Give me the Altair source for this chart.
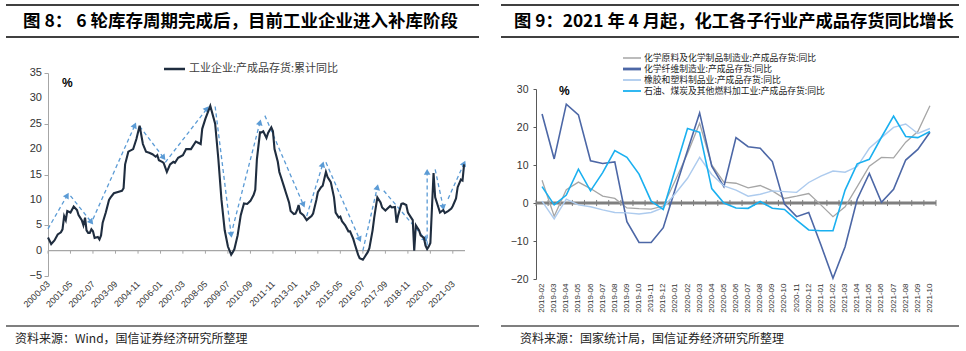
import math
import altair as alt
import pandas as pd

FONT_CJK = "Noto Sans CJK SC"
FONT_NUM = "Liberation Sans"

# ---------------- left panel data (工业企业:产成品存货:累计同比) ----------------
left_dates = [
    "2000-03", "2000-05", "2000-07", "2000-09", "2000-11", "2000-12",
    "2001-01", "2001-02", "2001-03", "2001-05", "2001-07", "2001-09", "2001-10", "2001-12",
    "2002-01", "2002-02", "2002-03", "2002-04", "2002-05", "2002-06", "2002-07", "2002-08", "2002-10", "2002-11", "2002-12",
    "2003-01", "2003-03", "2003-05", "2003-06", "2003-08", "2003-11",
    "2004-01", "2004-02", "2004-03", "2004-05", "2004-08", "2004-10", "2004-12",
    "2005-02", "2005-04", "2005-06", "2005-08", "2005-10", "2005-11", "2005-12",
    "2006-02", "2006-03", "2006-05", "2006-07", "2006-09", "2006-10", "2006-12",
    "2007-03", "2007-05", "2007-08", "2007-11",
    "2008-02", "2008-03", "2008-05", "2008-08", "2008-11",
    "2009-01", "2009-03", "2009-05", "2009-07", "2009-09", "2009-10", "2009-11",
    "2010-01", "2010-03", "2010-05", "2010-07", "2010-09", "2010-11", "2010-12",
    "2011-01", "2011-03", "2011-04", "2011-05", "2011-07", "2011-08", "2011-10", "2011-11", "2011-12",
    "2012-02", "2012-03", "2012-04", "2012-06", "2012-07", "2012-09", "2012-10", "2012-12",
    "2013-01", "2013-02", "2013-03", "2013-04", "2013-06", "2013-08", "2013-09", "2013-11", "2013-12",
    "2014-02", "2014-03", "2014-05", "2014-06", "2014-08", "2014-09", "2014-11",
    "2015-01", "2015-02", "2015-04", "2015-05", "2015-06", "2015-08", "2015-10", "2015-11",
    "2016-01", "2016-02", "2016-04", "2016-05", "2016-07", "2016-08", "2016-10", "2016-11",
    "2017-01", "2017-02", "2017-04", "2017-06", "2017-07", "2017-09", "2017-10", "2017-12",
    "2018-01", "2018-03", "2018-04", "2018-05", "2018-07", "2018-08", "2018-10", "2018-11",
    "2019-01", "2019-02", "2019-03", "2019-04", "2019-06", "2019-07", "2019-09", "2019-10", "2019-11", "2019-12",
    "2020-01", "2020-03", "2020-04", "2020-06", "2020-07", "2020-09", "2020-10", "2020-12",
    "2021-02", "2021-03", "2021-05", "2021-06", "2021-08", "2021-09", "2021-10",
]
left_values = [
    2.6, 1.3, 2.0, 3.2, 3.6, 4.2,
    6.8, 6.0, 7.8, 7.5, 8.7, 8.0, 7.0, 6.0,
    5.0, 6.5, 4.0, 3.5, 3.5, 4.2, 3.8, 2.5, 2.7, 2.2, 3.0,
    5.5, 7.5, 10.0, 10.5, 11.3, 11.6,
    11.8, 12.3, 17.0, 19.5, 20.0, 22.0, 24.6,
    21.0, 19.5, 19.3, 19.0, 18.5, 18.8, 17.8,
    17.5, 17.3, 15.5, 17.0, 17.5, 17.3, 18.3,
    18.8, 20.0, 20.0, 21.5,
    21.0, 24.0, 26.0, 28.5, 25.0,
    18.0, 10.0, 4.0, 0.8, -0.8, -0.3, 0.3,
    3.0, 7.0, 9.3, 9.2, 9.8, 11.0, 12.0,
    18.0, 23.3, 23.3, 23.5, 22.2, 23.2, 24.3, 23.5, 20.0,
    17.5, 15.5, 14.5, 12.5, 11.5, 9.5, 7.8, 7.2,
    7.3, 8.0, 9.0, 7.5, 7.0, 6.0, 6.3, 6.8, 7.3,
    10.0, 11.5, 12.5, 12.8, 15.5, 14.5, 13.5,
    10.5, 7.5, 6.5, 6.7, 5.8, 5.0, 3.8, 3.8,
    2.3, 1.2, -0.8, -1.5, -1.8, -1.3, -0.3, 0.5,
    4.0, 6.5, 10.5, 9.5, 8.5, 7.9, 8.2, 8.8,
    8.5, 8.6, 5.5, 7.0, 9.2, 9.3, 9.0, 7.5,
    6.5, 6.0, 0.0, 5.0, 4.0, 3.0, 2.5, 1.0, 0.3, 0.8,
    1.5, 15.3, 10.5, 8.5, 7.5, 8.0, 7.4, 7.8,
    8.3, 8.8, 10.3, 12.5, 14.0, 13.8, 17.0,
]

# dashed trend arrows
arrow_x1 = ["2000-03", "2001-05", "2002-07", "2004-12", "2006-04", "2008-11", "2009-10", "2011-06",
            "2013-08", "2014-08", "2016-07", "2017-08", "2019-11", "2020-04", "2020-12"]
arrow_y1 = [4.3, 10.8, 6.2, 24.5, 17.4, 28.4, 4.5, 26.6, 6.8, 17.4, 0.0, 11.8, 1.0, 16.0, 10.2]
arrow_x2 = ["2001-03", "2002-06", "2004-09", "2006-03", "2008-06", "2009-09", "2011-03", "2013-06",
            "2014-06", "2016-05", "2017-04", "2019-10", "2019-11", "2020-09", "2021-10"]
arrow_y2 = [10.9, 5.6, 24.7, 18.3, 28.0, 3.1, 25.3, 9.0, 17.0, 2.2, 12.5, 2.2, 15.5, 8.5, 17.2]

left_ticks = ["2000-03", "2001-05", "2002-07", "2003-09", "2004-11", "2006-01", "2007-03", "2008-05",
              "2009-07", "2010-09", "2011-11", "2013-01", "2014-03", "2015-05", "2016-07", "2017-09",
              "2018-11", "2020-01", "2021-03"]
left_yticks = [-5, 0, 5, 10, 15, 20, 25, 30, 35]

# ---------------- right panel data ----------------
months = ["2019-02", "2019-03", "2019-04", "2019-05", "2019-06", "2019-07", "2019-08", "2019-09",
          "2019-10", "2019-11", "2019-12", "2020-01", "2020-02", "2020-03", "2020-04", "2020-05",
          "2020-06", "2020-07", "2020-08", "2020-09", "2020-10", "2020-11", "2020-12", "2021-01",
          "2021-02", "2021-03", "2021-04", "2021-05", "2021-06", "2021-07", "2021-08", "2021-09",
          "2021-10"]
s_chem = [6.0, -3.5, 3.5, 5.5, 3.8, 1.8, 1.2, -1.3, -1.5, -1.6, -0.8, 6.0, 13.0, 21.0, 10.0, 5.5,
          5.2, 4.0, 4.6, 3.2, 1.2, 1.8, 2.5, -0.5, -3.6, -1.0, 4.3, 9.7, 12.0, 11.9, 16.0, 18.8, 25.6]
s_fiber = [23.4, 11.6, 26.0, 23.2, 11.1, 10.4, 10.8, -4.9, -10.4, -10.4, -6.5, 3.8, 13.8, 23.7, 9.7, 4.3,
           17.2, 14.8, 14.4, 10.9, -0.3, -3.6, -2.5, -11.0, -19.8, -11.5, 1.0, 7.8, 0.2, 3.6, 11.3, 14.1, 18.6]
s_rubber = [0.5, -4.2, 1.0, -0.5, -1.0, -1.8, -2.5, -2.6, -2.9, -2.5, -1.2, 2.5, 6.5, 12.0, 7.5, 4.5,
            3.4, 1.8, 2.3, 3.2, 3.0, 2.8, 5.4, 7.1, 8.4, 8.1, 9.6, 14.4, 17.2, 19.9, 20.8, 18.3, 19.6]
s_oil = [4.3, -0.5, 2.1, 8.9, 3.2, 8.0, 13.8, 12.0, 7.6, 0.5, -1.7, 9.0, 19.6, 18.6, 3.8, 0.0,
         -1.3, -1.4, 0.4, -1.4, -1.7, -4.5, -7.1, -7.3, -7.3, 3.4, 10.3, 11.5, 17.3, 22.9, 17.5, 17.2, 18.8]
right_names = ["化学原料及化学制品制造业:产成品存货:同比", "化学纤维制造业:产成品存货:同比",
               "橡胶和塑料制品业:产成品存货:同比", "石油、煤炭及其他燃料加工业:产成品存货:同比"]
right_colors = ["#A6A6A6", "#4C67A6", "#ADCBEE", "#1AB0F0"]
right_widths = [1.3, 1.6, 1.4, 1.6]
right_yticks = [-20, -15, -10, -5, 0, 5, 10, 15, 20, 25, 30]

# ---------------- geometry ----------------
W1, H1 = 417, 203          # left plot area (page origin 47, 73)
W2, H2 = 400, 206          # right view (page origin 535, 73); plot drawn in y 16..206
RTOP = 16


def txt(text, x, y, size, weight="normal", color="#000000", font=FONT_CJK, align="left"):
    return alt.Chart(pd.DataFrame({"t": [text]})).mark_text(
        align=align, baseline="middle", fontSize=size, fontWeight=weight, color=color, font=font
    ).encode(text="t:N", x=alt.value(x), y=alt.value(y))


def hrule(x1, x2, y, color="#000000", width=1.5):
    return alt.Chart(pd.DataFrame({"a": [0]})).mark_rule(color=color, strokeWidth=width).encode(
        x=alt.value(x1), x2=alt.value(x2), y=alt.value(y))


def mindex(s):
    y, m = int(s[:4]), int(s[5:7])
    return (y - 2000) * 12 + (m - 3)


# ---------------- left panel ----------------
df_left = pd.DataFrame({"d": left_dates, "v": left_values})
dom_end = alt.DateTime(year=2021, month=10, date=18, utc=True)
xs_left = alt.Scale(type="utc", domain=[alt.DateTime(year=2000, month=3, date=1, utc=True), dom_end])
ys_left = alt.Scale(domain=[-5, 35], nice=False, zero=False)
tick_dt = [alt.DateTime(year=int(s[:4]), month=int(s[5:7]), date=1, utc=True) for s in left_ticks]
ax_lx = alt.Axis(values=tick_dt, format="%Y-%m", labelAngle=-45, labelAlign="right", labelBaseline="middle",
                 labelFontSize=9, labelPadding=6, domain=False, ticks=False, grid=False, labelColor="#333333",
                 labelFont=FONT_NUM, labelOverlap=False, title=None)
ax_ly = alt.Axis(values=left_yticks, domainColor="#A6A6A6", tickColor="#A6A6A6", tickSize=4, labels=False,
                 grid=False, title=None)

XL = lambda f: alt.X(f, scale=xs_left, axis=ax_lx, title=None)
YL = lambda f: alt.Y(f, scale=ys_left, axis=ax_ly, title=None)

left_line = alt.Chart(df_left).mark_line(color="#1F2D3F", strokeWidth=2.1).encode(x=XL("d:T"), y=YL("v:Q"))
left_zero = alt.Chart(pd.DataFrame({"a": [0]})).mark_rule(color="#A6A6A6", strokeWidth=1.2).encode(
    y=alt.datum(0))
left_tk = alt.Chart(pd.DataFrame({"d": left_ticks})).mark_rule(color="#A6A6A6", strokeWidth=1).encode(
    x=XL("d:T"), y=alt.datum(0), y2=alt.datum(-0.6))
left_ylab = alt.Chart(pd.DataFrame({"v": left_yticks})).mark_text(
    align="right", baseline="middle", fontSize=11, color="#333333", font=FONT_NUM
).encode(y=YL("v:Q"), x=alt.value(-6), text=alt.Text("v:Q", format="d"))

pxm = W1 / 259.57
pxv = H1 / 40.0
angs = []
for a, b, c, d in zip(arrow_x1, arrow_y1, arrow_x2, arrow_y2):
    dx = (mindex(c) - mindex(a)) * pxm
    dy = (d - b) * pxv
    angs.append(math.degrees(math.atan2(dx, dy)) % 360)
df_arr = pd.DataFrame({"x1": arrow_x1, "y1": arrow_y1, "x2": arrow_x2, "y2": arrow_y2, "ang": angs})
arr_lines = alt.Chart(df_arr).mark_rule(color="#5B9BD5", strokeWidth=1.3, strokeDash=[4, 3]).encode(
    x=XL("x1:T"), y=YL("y1:Q"), x2="x2:T", y2="y2:Q")
arr_heads = alt.Chart(df_arr).mark_point(shape="triangle-up", filled=True, size=45, color="#5B9BD5",
                                         opacity=1).encode(
    x=XL("x2:T"), y=YL("y2:Q"), angle=alt.Angle("ang:Q", scale=None))

left = alt.layer(
    left_zero, left_tk, arr_lines, arr_heads, left_line, left_ylab,
    hrule(116, 137, -4, color="#1F2D3F", width=2.5),
    txt("工业企业:产成品存货:累计同比", 141, -4, 11, color="#404040"),
    txt("%", 14, 10, 12, weight="bold", font=FONT_NUM),
    hrule(-42, 431, -68), hrule(-42, 431, -36),
    txt("图 8：     6 轮库存周期完成后，目前工业企业进入补库阶段", -25, -51, 17.5, weight="bold"),
    hrule(-42, 431, 253, width=1.2),
    txt("资料来源：Wind，国信证券经济研究所整理", -33, 266, 12, color="#222222"),
).properties(width=W1, height=H1)

# ---------------- right panel ----------------
xs_right = alt.Scale(type="band", domain=months, paddingInner=0, paddingOuter=0)
ys_right = alt.Scale(domain=[-20, 30], nice=False, zero=False, range=[H2, RTOP])
ax_rx = alt.Axis(labelAngle=-90, labelFontSize=8, labelPadding=4, domain=False, ticks=False, grid=False,
                 labelColor="#333333", labelFont=FONT_NUM, labelOverlap=False, title=None)
ax_ry = alt.Axis(values=right_yticks, domainColor="#595959", tickColor="#595959", tickSize=3, labelFontSize=10.5,
                 labelPadding=5, grid=False, labelColor="#333333", labelFont=FONT_NUM, labelOverlap=False,
                 title=None)
XR = lambda f, bp=0.5: alt.X(f, scale=xs_right, axis=ax_rx, title=None, bandPosition=bp)
YR = lambda f: alt.Y(f, scale=ys_right, axis=ax_ry, title=None)

right_layers = []
right_layers.append(alt.Chart(pd.DataFrame({"a": [0]})).mark_rule(color="#7F7F7F", strokeWidth=3).encode(
    y=alt.datum(0)))
right_layers.append(alt.Chart(pd.DataFrame({"m": months})).mark_rule(color="#7F7F7F", strokeWidth=1).encode(
    x=XR("m:N", 0), y=alt.datum(0.8), y2=alt.datum(-0.8)))
right_layers.append(alt.Chart(pd.DataFrame({"m": months[-1:]})).mark_rule(color="#7F7F7F", strokeWidth=1).encode(
    x=XR("m:N", 1), y=alt.datum(0.8), y2=alt.datum(-0.8)))
series = [s_chem, s_fiber, s_rubber, s_oil]
for vals, col, w in zip(series, right_colors, right_widths):
    dfr = pd.DataFrame({"m": months, "v": vals})
    right_layers.append(alt.Chart(dfr).mark_line(color=col, strokeWidth=w).encode(x=XR("m:N"), y=YR("v:Q")))

leg_y = [-15, -4, 7, 18]
leg_w = [1.5, 2.8, 1.8, 1.8]
for name, col, ly, lw in zip(right_names, right_colors, leg_y, leg_w):
    right_layers.append(hrule(87, 105, ly, color=col, width=lw))
    right_layers.append(txt(name, 108, ly, 8.8, color="#222222"))

right_layers += [
    txt("%", 23, 18, 12, weight="bold", font=FONT_NUM),
    hrule(-35, 423, -68), hrule(-35, 423, -36),
    txt("图 9：2021 年 4 月起，化工各子行业产成品存货同比增长", -22, -51, 17.3, weight="bold"),
    hrule(-35, 423, 253, width=1.2),
    txt("资料来源：国家统计局，国信证券经济研究所整理", -16, 266, 12, color="#222222"),
]
right = alt.layer(*right_layers).properties(width=W2, height=H2)

chart = alt.hconcat(left, right, spacing=20).properties(
    padding={"left": 5, "top": 4, "right": 0, "bottom": 0}, background="white"
).configure_view(stroke=None)

chart.save("out.html", embed_options={"renderer": "svg", "actions": False})
